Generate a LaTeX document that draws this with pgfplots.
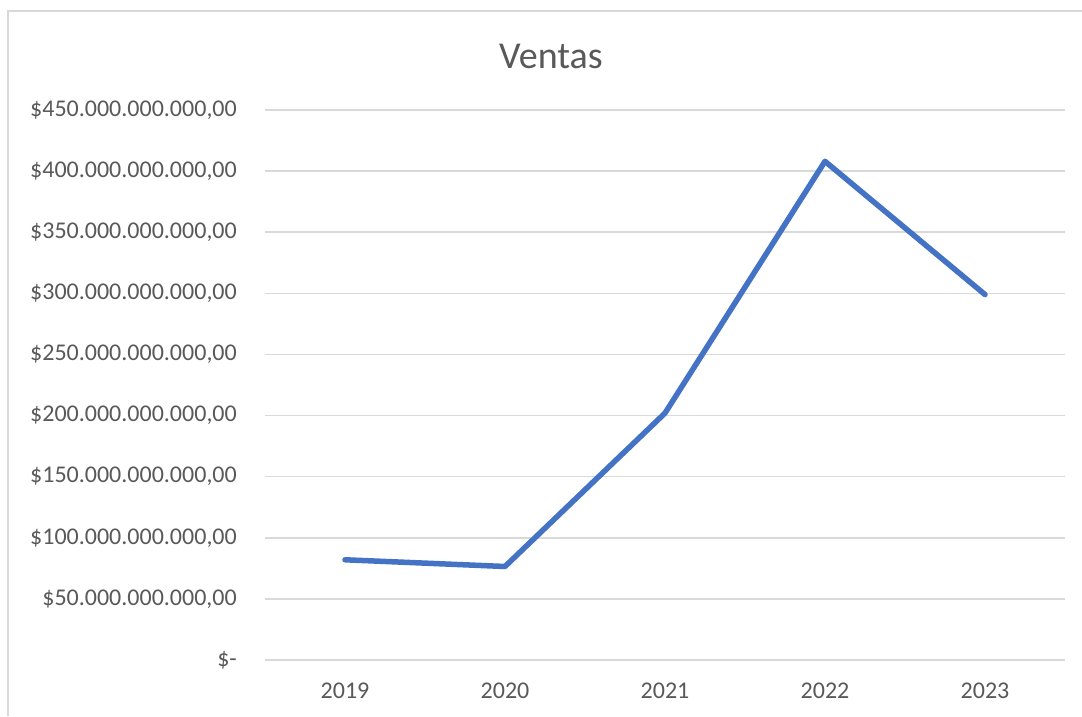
\documentclass[border=0pt]{standalone}
\usepackage{fontspec}
\setmainfont{Carlito}
\usepackage{pgfplots}
\pgfplotsset{compat=1.18}
\definecolor{linea}{HTML}{4472C4}
\definecolor{rejilla}{HTML}{D9D9D9}
\definecolor{texto}{HTML}{595959}
\begin{document}
\begin{tikzpicture}[x=1pt,y=1pt]
\useasboundingbox (0,0) rectangle (1082,716);
\fill[white] (0,0) rectangle (1082,716);
\draw[rejilla, line width=2pt] (8,0) -- (8,705) -- (1082,705);
\node[texto, font=\fontsize{38}{45}\selectfont, anchor=base, inner sep=0] at (551,647) {Ventas};
\begin{axis}[
  at={(265pt,56pt)}, anchor=south west,
  scale only axis, width=800pt, height=550pt,
  xmin=-0.5, xmax=4.5, ymin=0, ymax=450,
  axis line style={draw=none},
  major tick length=0pt,
  xtick={0,1,2,3,4},
  xticklabels={2019,2020,2021,2022,2023},
  ytick={0,50,100,150,200,250,300,350,400,450},
  yticklabels={\$-\hspace{11pt},
    \$50.000.000.000{,}00, \$100.000.000.000{,}00, \$150.000.000.000{,}00,
    \$200.000.000.000{,}00, \$250.000.000.000{,}00, \$300.000.000.000{,}00,
    \$350.000.000.000{,}00, \$400.000.000.000{,}00, \$450.000.000.000{,}00},
  ticklabel style={font=\fontsize{24}{29}\selectfont, text=texto, inner sep=0pt},
  yticklabel style={anchor=east, xshift=-28pt},
  xticklabel style={anchor=base, yshift=-38pt},
  ymajorgrids, grid style={rejilla, line width=1.6pt},
]
\addplot[linea, line width=5.5pt, line join=round, line cap=round] coordinates {
  (0,82) (1,76.5) (2,202) (3,408) (4,299)
};
\end{axis}
\end{tikzpicture}
\end{document}
